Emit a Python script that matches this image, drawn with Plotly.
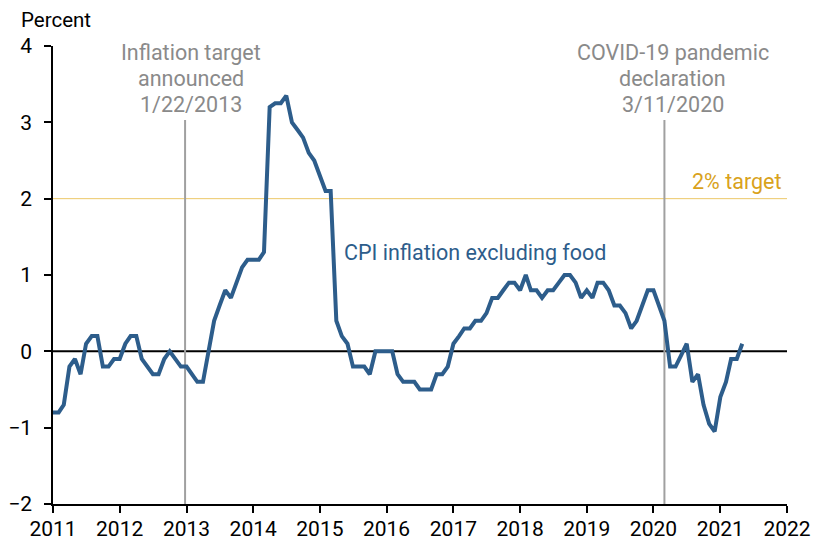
import pandas as pd
import plotly.graph_objects as go

# Monthly CPI inflation excluding food (percent), Jan 2011 - May 2021
cpi_2011 = [-0.8, -0.8, -0.7, -0.2, -0.1, -0.3, 0.1, 0.2, 0.2, -0.2, -0.2, -0.1]
cpi_2012 = [-0.1, 0.1, 0.2, 0.2, -0.1, -0.2, -0.3, -0.3, -0.1, 0.0, -0.1, -0.2]
cpi_2013 = [-0.2, -0.3, -0.4, -0.4, 0.0, 0.4, 0.6, 0.8, 0.7, 0.9, 1.1, 1.2]
cpi_2014 = [1.2, 1.2, 1.3, 3.2, 3.25, 3.25, 3.35, 3.0, 2.9, 2.8, 2.6, 2.5]
cpi_2015 = [2.3, 2.1, 2.1, 0.4, 0.2, 0.1, -0.2, -0.2, -0.2, -0.3, 0.0, 0.0]
cpi_2016 = [0.0, 0.0, -0.3, -0.4, -0.4, -0.4, -0.5, -0.5, -0.5, -0.3, -0.3, -0.2]
cpi_2017 = [0.1, 0.2, 0.3, 0.3, 0.4, 0.4, 0.5, 0.7, 0.7, 0.8, 0.9, 0.9]
cpi_2018 = [0.8, 1.0, 0.8, 0.8, 0.7, 0.8, 0.8, 0.9, 1.0, 1.0, 0.9, 0.7]
cpi_2019 = [0.8, 0.7, 0.9, 0.9, 0.8, 0.6, 0.6, 0.5, 0.3, 0.4, 0.6, 0.8]
cpi_2020 = [0.8, 0.6, 0.4, -0.2, -0.2, -0.05, 0.1, -0.4, -0.3, -0.7, -0.95, -1.05]
cpi_2021 = [-0.6, -0.4, -0.1, -0.1, 0.1]

cpi = (cpi_2011 + cpi_2012 + cpi_2013 + cpi_2014 + cpi_2015 + cpi_2016
       + cpi_2017 + cpi_2018 + cpi_2019 + cpi_2020 + cpi_2021)
months = pd.date_range("2011-01-01", periods=len(cpi), freq="MS")

year_ticks = [f"{y}-01-01" for y in range(2011, 2023)]
year_labels = [str(y) for y in range(2011, 2023)]
y_ticks = [-2, -1, 0, 1, 2, 3, 4]

target_value = 2
event_dates = ["2012-12-24", "2020-03-01"]
event_lines = [["Inflation target", "announced", "1/22/2013"],
               ["COVID-19 pandemic", "declaration", "3/11/2020"]]
event_label_x = ["2013-01-28", "2020-04-15"]
event_line_y = [3.92, 3.58, 3.24]

FONT = "Roboto"
LINE_COLOR = "#2d5d8b"
GOLD = "#d9a21b"
GRAY = "#8a8a8a"

fig = go.Figure()
fig.add_trace(go.Scatter(x=months, y=cpi, mode="lines",
                         line=dict(color=LINE_COLOR, width=4),
                         hoverinfo="skip", showlegend=False))

shapes = []
shapes.append(dict(type="line", xref="paper", x0=0, x1=1, yref="y",
                   y0=target_value, y1=target_value,
                   line=dict(color="#ecc868", width=1), layer="below"))
shapes.append(dict(type="line", xref="paper", x0=0, x1=1, yref="y",
                   y0=0, y1=0, line=dict(color="black", width=2), layer="below"))
for d in event_dates:
    shapes.append(dict(type="line", xref="x", x0=d, x1=d, yref="y",
                       y0=-2, y1=3.03, line=dict(color="#a0a0a0", width=2),
                       layer="below"))

annotations = []
for xl, lines in zip(event_label_x, event_lines):
    for txt, yl in zip(lines, event_line_y):
        annotations.append(dict(x=xl, y=yl, xref="x", yref="y", text=txt,
                                showarrow=False, xanchor="center",
                                yanchor="middle",
                                font=dict(family=FONT, size=21.5, color=GRAY)))
annotations.append(dict(x="2021-04-01", y=2.23, xref="x", yref="y",
                        text="2% target", showarrow=False,
                        font=dict(family=FONT, size=21.5, color=GOLD)))
annotations.append(dict(x="2017-05-01", y=1.30, xref="x", yref="y",
                        text="CPI inflation excluding food", showarrow=False,
                        font=dict(family=FONT, size=21.5, color=LINE_COLOR)))
annotations.append(dict(x=-0.047, y=1.057, xref="paper", yref="paper",
                        text="Percent", showarrow=False, xanchor="left",
                        yanchor="middle",
                        font=dict(family=FONT, size=20.5, color="black")))

fig.update_layout(
    width=824, height=541,
    margin=dict(l=53, r=37, t=46, b=37),
    paper_bgcolor="white", plot_bgcolor="white",
    font=dict(family=FONT, size=21, color="black"),
    shapes=shapes, annotations=annotations,
    xaxis=dict(type="date", range=["2011-01-01", "2022-01-01"],
               tickmode="array", tickvals=year_ticks, ticktext=year_labels,
               showgrid=False, zeroline=False, showline=True,
               linecolor="black", linewidth=1.5, ticks="outside",
               ticklen=7, tickcolor="black", tickwidth=1.5,
               automargin=False, ticklabelstandoff=-2,
               tickfont=dict(family=FONT, size=21, color="black")),
    yaxis=dict(range=[-2, 4], tickmode="array", tickvals=y_ticks,
               showgrid=False, zeroline=False, showline=True,
               linecolor="black", linewidth=1.5, ticks="outside",
               ticklen=7, tickcolor="black", tickwidth=1.5,
               automargin=False, ticklabelstandoff=8,
               tickfont=dict(family=FONT, size=21, color="black")),
)

fig.write_html("out.html")
